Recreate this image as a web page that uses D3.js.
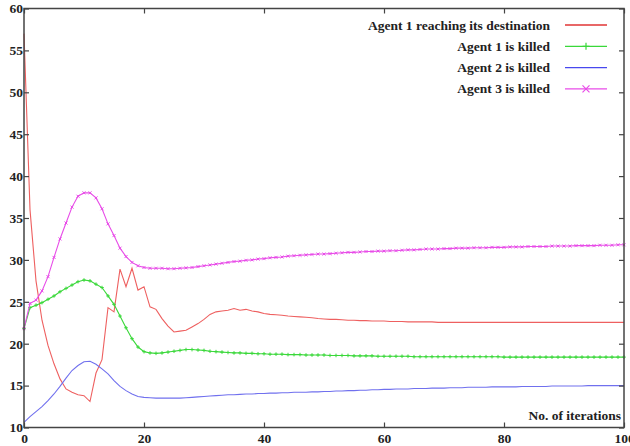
<!DOCTYPE html>
<html>
<head>
<meta charset="utf-8">
<script src="https://cdn.jsdelivr.net/npm/d3@7"></script>
<style>
  html, body { margin: 0; padding: 0; background: #fff; }
  svg { display: block; }
  text { font-family: "Liberation Serif", "Times New Roman", serif; font-weight: bold; fill: #222; }
</style>
</head>
<body>
<svg id="chart" width="630" height="446"></svg>
<script>
// ---- data ----
const iterations = d3.range(0, 101);
const xTicks = [0, 20, 40, 60, 80, 100];
const yTicks = [10, 15, 20, 25, 30, 35, 40, 45, 50, 55, 60];
const seriesNames = ["Agent 1 reaching its destination", "Agent 1 is killed", "Agent 2 is killed", "Agent 3 is killed"];
const xLabel = "No. of iterations";

const agent1Dest = [
  57, 36, 27.5, 22.8, 19.8, 17.6, 15.8, 14.6, 14.2, 13.9,
  13.8, 13.1, 16.5, 18.1, 24.3, 23.8, 28.9, 26.8, 29.0, 26.4,
  26.8, 24.4, 24.1, 23.0, 22.1, 21.4, 21.5, 21.6, 22.0, 22.4,
  22.9, 23.5, 23.8, 23.9, 24.0, 24.2, 24.0, 24.1, 23.9, 23.8,
  23.6, 23.5, 23.45, 23.4, 23.3, 23.25, 23.2, 23.15, 23.1, 23.0,
  22.95, 22.9, 22.9, 22.85, 22.8, 22.8, 22.75, 22.75, 22.7, 22.7,
  22.7, 22.65, 22.65, 22.65, 22.6, 22.6, 22.6, 22.6, 22.6, 22.55,
  22.55, 22.55, 22.55, 22.55, 22.55, 22.55, 22.55, 22.55, 22.55, 22.55,
  22.55, 22.55, 22.55, 22.55, 22.55, 22.55, 22.55, 22.55, 22.55, 22.55,
  22.55, 22.55, 22.55, 22.55, 22.55, 22.55, 22.55, 22.55, 22.55, 22.55,
  22.55
];
const agent1Killed = [
  21.8, 24.3, 24.6, 24.9, 25.3, 25.7, 26.2, 26.6, 27.0, 27.4,
  27.6, 27.5, 27.1, 26.7, 25.7, 24.7, 23.3, 21.9, 20.6, 19.6,
  19.05, 18.9, 18.85, 18.9, 19.0, 19.1, 19.2, 19.3, 19.3, 19.25,
  19.2, 19.1, 19.05, 19.0, 18.95, 18.9, 18.9, 18.85, 18.85, 18.8,
  18.8, 18.75, 18.75, 18.75, 18.7, 18.7, 18.7, 18.65, 18.65, 18.65,
  18.65, 18.6, 18.6, 18.6, 18.6, 18.55, 18.55, 18.55, 18.55, 18.5,
  18.5, 18.5, 18.5, 18.5, 18.5, 18.45, 18.45, 18.45, 18.45, 18.45,
  18.45, 18.45, 18.45, 18.45, 18.45, 18.45, 18.45, 18.45, 18.45, 18.45,
  18.4, 18.4, 18.4, 18.4, 18.4, 18.4, 18.4, 18.4, 18.4, 18.4,
  18.4, 18.4, 18.4, 18.4, 18.4, 18.4, 18.4, 18.4, 18.4, 18.4,
  18.4
];
const agent2Killed = [
  10.6, 11.3, 11.9, 12.5, 13.2, 14.0, 14.9, 15.9, 16.8, 17.4,
  17.85, 17.9, 17.55, 17.0, 16.4, 15.6, 14.9, 14.4, 14.0, 13.7,
  13.6, 13.55, 13.5, 13.5, 13.5, 13.5, 13.5, 13.55, 13.6, 13.65,
  13.7, 13.75, 13.8, 13.85, 13.9, 13.9, 13.95, 14.0, 14.0, 14.05,
  14.05, 14.1, 14.1, 14.15, 14.15, 14.2, 14.2, 14.2, 14.25, 14.25,
  14.3, 14.3, 14.35, 14.35, 14.4, 14.4, 14.45, 14.45, 14.5, 14.5,
  14.55, 14.55, 14.6, 14.6, 14.6, 14.65, 14.65, 14.65, 14.7, 14.7,
  14.7, 14.75, 14.75, 14.75, 14.8, 14.8, 14.8, 14.8, 14.85, 14.85,
  14.85, 14.85, 14.85, 14.9, 14.9, 14.9, 14.9, 14.9, 14.95, 14.95,
  14.95, 14.95, 14.95, 14.95, 15.0, 15.0, 15.0, 15.0, 15.0, 15.0,
  15.0
];
const agent3Killed = [
  21.8, 24.8, 25.2, 26.3, 28.0, 30.3, 32.5, 34.4, 36.3, 37.6,
  38.0, 38.0, 37.4, 36.1, 34.3, 32.9, 31.4, 30.4, 29.7, 29.3,
  29.1, 29.0, 29.0, 29.0, 28.95, 28.95, 29.0, 29.05, 29.1, 29.2,
  29.3, 29.4, 29.5, 29.6, 29.7, 29.8, 29.85, 29.95, 30.0, 30.1,
  30.15, 30.25, 30.3, 30.35, 30.45, 30.5, 30.55, 30.6, 30.65, 30.7,
  30.7, 30.75, 30.8, 30.85, 30.9, 30.9, 30.95, 31.0, 31.0, 31.05,
  31.05, 31.1, 31.1, 31.15, 31.2, 31.2, 31.25, 31.3, 31.3, 31.3,
  31.35, 31.35, 31.4, 31.4, 31.4, 31.45, 31.45, 31.45, 31.5, 31.5,
  31.5, 31.55, 31.55, 31.55, 31.6, 31.6, 31.6, 31.6, 31.65, 31.65,
  31.65, 31.65, 31.7, 31.7, 31.7, 31.7, 31.75, 31.75, 31.75, 31.8,
  31.8
];

// ---- chart ----
const svg = d3.select("#chart");
const x = d3.scaleLinear().domain([0, 100]).range([24, 624]);
const y = d3.scaleLinear().domain([10, 60]).range([427.5, 8.5]);

const series = [
  { name: seriesNames[0], values: agent1Dest,   color: "#ee6060", legendColor: "#e03535", marker: null },
  { name: seriesNames[1], values: agent1Killed, color: "#3ad83a", legendColor: "#3ad83a", marker: "plus" },
  { name: seriesNames[2], values: agent2Killed, color: "#7070ee", legendColor: "#4848ee", marker: null },
  { name: seriesNames[3], values: agent3Killed, color: "#e84ce8", legendColor: "#e84ce8", marker: "cross" }
];

const line = d3.line().x((d, i) => x(iterations[i])).y(d => y(d));

function markerPath(type, cx, cy, s) {
  if (type === "plus") return `M${cx - s},${cy}H${cx + s}M${cx},${cy - s}V${cy + s}`;
  return `M${cx - s},${cy - s}L${cx + s},${cy + s}M${cx - s},${cy + s}L${cx + s},${cy - s}`;
}

// lines + markers
series.forEach(s => {
  svg.append("path")
    .datum(s.values)
    .attr("fill", "none")
    .attr("stroke", s.color)
    .attr("stroke-width", 1.1)
    .attr("d", line);
  if (s.marker) {
    svg.append("g").selectAll("path")
      .data(s.values)
      .join("path")
      .attr("d", (d, i) => markerPath(s.marker, x(iterations[i]), y(d), s.marker === "plus" ? 1.8 : 1.5))
      .attr("stroke", s.color)
      .attr("stroke-width", 1)
      .attr("fill", "none");
  }
});

// axes
const axisColor = "#444";
function styleAxis(g) {
  g.select(".domain").remove();
  g.selectAll(".tick line").attr("stroke", axisColor).attr("stroke-width", 1.2);
  g.selectAll(".tick text").attr("font-size", 13.5).attr("font-family", '"Liberation Serif", serif').attr("font-weight", "bold").attr("fill", "#222");
}

svg.append("g").attr("transform", `translate(0,${y(10)})`)
  .call(d3.axisBottom(x).tickValues(xTicks).tickSizeInner(-5).tickSizeOuter(0).tickPadding(6).tickFormat(d3.format("d")))
  .call(styleAxis);
svg.append("g").attr("transform", `translate(0,${y(60)})`)
  .call(d3.axisTop(x).tickValues(xTicks).tickSizeInner(-5).tickSizeOuter(0).tickFormat(""))
  .call(styleAxis);
svg.append("g").attr("transform", `translate(${x(0)},0)`)
  .call(d3.axisLeft(y).tickValues(yTicks).tickSizeInner(-5).tickSizeOuter(0).tickPadding(1).tickFormat(d3.format("d")))
  .call(styleAxis);
svg.append("g").attr("transform", `translate(${x(100)},0)`)
  .call(d3.axisRight(y).tickValues(yTicks).tickSizeInner(-5).tickSizeOuter(0).tickFormat(""))
  .call(styleAxis);

// frame
svg.append("rect")
  .attr("x", x(0)).attr("y", y(60))
  .attr("width", x(100) - x(0)).attr("height", y(10) - y(60))
  .attr("fill", "none").attr("stroke", axisColor).attr("stroke-width", 1.5);

// x label
svg.append("text")
  .attr("x", x(100) - 3).attr("y", y(10) - 8)
  .attr("text-anchor", "end").attr("font-size", 13.5)
  .text(xLabel);

// legend
const legend = svg.append("g");
series.forEach((s, i) => {
  const ly = 25 + i * 21.3;
  legend.append("text")
    .attr("x", 550).attr("y", ly + 4.5)
    .attr("text-anchor", "end").attr("font-size", 13.5)
    .text(s.name);
  legend.append("line")
    .attr("x1", 565).attr("x2", 607).attr("y1", ly).attr("y2", ly)
    .attr("stroke", s.legendColor).attr("stroke-width", 1.3);
  if (s.marker) {
    legend.append("path")
      .attr("d", markerPath(s.marker, 586, ly, 3.5))
      .attr("stroke", s.legendColor).attr("stroke-width", 1.2).attr("fill", "none");
  }
});
</script>
</body>
</html>
